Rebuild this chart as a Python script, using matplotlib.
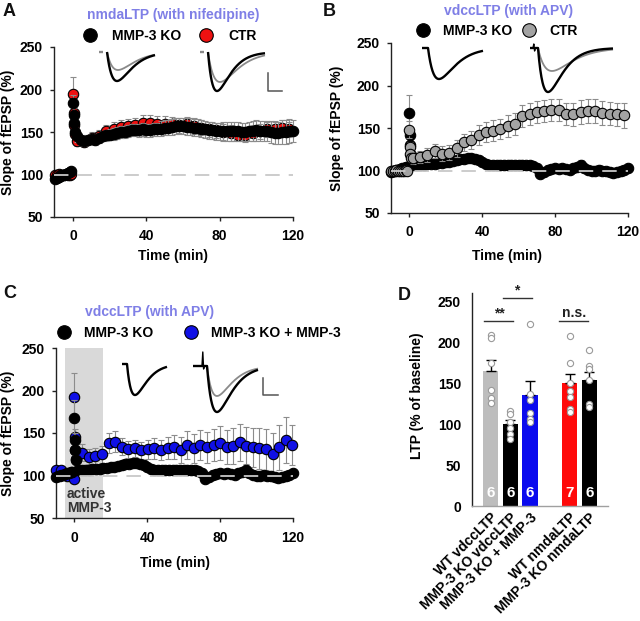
import numpy as np
import matplotlib
matplotlib.use('Agg')
import matplotlib.pyplot as plt

plt.rcParams['font.family'] = ['Liberation Sans', 'DejaVu Sans']
plt.rcParams['font.weight'] = 'bold'
plt.rcParams['axes.labelweight'] = 'bold'

# ---------------- DATA ----------------
# time grids (min)
t_base = np.arange(-10, 0)            # baseline, 1-min
t_ptp = np.array([0, 0.3, 0.6, 0.9])  # post-tetanic points
t_ko = np.arange(2, 121, 2)           # KO recordings every 2 min
t_ctr = np.arange(2, 119, 4)          # control every 4 min
t_blue = 4.4 + 3.6 * np.arange(33)    # KO + MMP-3
t_blue_base = np.array([-10, -7, -4, 0])

# Panel A: nmdaLTP (with nifedipine)
a_ko_base = [95, 96, 97, 98, 99, 100, 101, 102, 103, 104]
a_ctr_base = [100, 100, 101, 100, 99, 100, 101, 100, 100, 101]
a_ko_ptp = [184, 170, 161, 150]
a_ko_ptp_err = [10, 8, 7, 6]
a_ctr_ptp = [195, 172, 158, 148]
a_ctr_ptp_err = [20, 12, 9, 8]
a_ko = [145, 141, 140, 141, 142, 141, 143, 145, 146, 147,
        148, 149, 150, 150, 151, 152, 152, 152, 153, 152,
        152, 153, 153, 154, 155, 155, 156, 157, 157, 157,
        156, 156, 155, 155, 154, 153, 152, 152, 151, 151,
        151, 151, 151, 151, 151, 150, 150, 151, 151, 152,
        151, 151, 151, 150, 149, 149, 150, 150, 151, 151]
a_ko_err = [7, 6, 6, 6, 6, 6, 6, 6, 6, 6,
            7, 7, 7, 7, 7, 7, 7, 8, 8, 8,
            8, 8, 8, 9, 9, 9, 9, 9, 9, 9,
            10, 10, 10, 10, 10, 10, 10, 10, 10, 10,
            11, 11, 11, 11, 11, 11, 11, 11, 12, 12,
            12, 12, 12, 13, 13, 13, 14, 14, 14, 13]
a_ctr = [140, 138, 143, 145, 151, 154, 156, 157, 158, 161,
         161, 160, 160, 159, 158, 159, 157, 155, 153, 152,
         150, 149, 147, 146, 149, 151, 153, 154, 155, 153]
a_ctr_err = [6, 6, 7, 7, 7, 8, 8, 8, 9, 9,
             9, 9, 9, 9, 9, 9, 9, 9, 9, 9,
             9, 9, 8, 8, 9, 9, 9, 9, 9, 9]

# MMP-3 KO vdccLTP (panels B and C)
ko_v_base = [98, 99, 100, 101, 101, 102, 103, 103, 104, 104]
ko_v_ptp = [168, 142, 130, 118]
ko_v_ptp_err = [21, 8, 6, 5]
ko_v = [106, 106, 107, 107, 108, 108, 108, 109, 109, 110,
        110, 111, 112, 113, 114, 115, 115, 114, 112, 110,
        108, 107, 107, 106, 106, 107, 106, 107, 107, 106,
        107, 106, 106, 105, 103, 96, 98, 101, 102, 103,
        102, 103, 102, 101, 103, 104, 107, 103, 101, 100,
        100, 101, 100, 99, 98, 97, 98, 99, 101, 103]
ko_v_err = [4, 4, 4, 4, 4, 4, 4, 4, 4, 4,
            4, 4, 5, 5, 5, 5, 5, 5, 5, 5,
            5, 5, 5, 5, 5, 5, 5, 5, 5, 5,
            5, 5, 5, 5, 5, 5, 5, 5, 5, 5,
            5, 5, 5, 5, 5, 5, 5, 5, 5, 5,
            5, 5, 5, 5, 5, 5, 5, 5, 5, 5]

# Panel B control
b_ctr_base = [100, 99, 100, 101, 100, 100, 99, 100, 101, 100]
b_ctr_ptp = [148, 128, 120, 115]
b_ctr_ptp_err = [10, 6, 5, 5]
b_ctr = [115, 116, 118, 123, 120, 121, 126, 133, 136, 142,
         145, 147, 149, 152, 155, 164, 167, 169, 170, 171,
         171, 167, 166, 169, 170, 170, 168, 167, 166, 165]
b_ctr_err = [7, 7, 8, 8, 9, 9, 10, 10, 11, 12,
             12, 12, 12, 13, 13, 13, 13, 13, 13, 13,
             13, 13, 14, 14, 14, 14, 14, 14, 14, 15]

# Panel C: KO + MMP-3
c_blue_base = [106, 106, 100, 96]
c_blue_ptp = [192, 145, 130, 120]
c_blue_ptp_err = [29, 10, 8, 6]
c_blue = [127, 122, 123, 125, 138, 140, 134, 131, 132, 130,
          131, 132, 130, 132, 134, 130, 136, 132, 136, 133,
          136, 138, 133, 135, 139, 135, 133, 132, 131, 125,
          133, 142, 136]
c_blue_err = [10, 9, 9, 10, 12, 12, 10, 10, 10, 10,
              11, 12, 12, 13, 14, 15, 16, 17, 18, 18,
              19, 20, 20, 21, 22, 22, 23, 24, 24, 25,
              26, 27, 24]

# Panel D
d_labels = ['WT vdccLTP', 'MMP-3 KO vdccLTP', 'MMP-3 KO + MMP-3',
            'WT nmdaLTP', 'MMP-3 KO nmdaLTP']
d_pos = [0, 1, 2, 4, 5]
d_mean = [165, 100, 135, 150, 154]
d_sem = [13, 5, 18, 11, 10]
d_n = [6, 6, 6, 7, 6]
d_points = [[209, 205, 174, 141, 132, 126],
            [116, 112, 103, 95, 88, 82],
            [222, 137, 129, 114, 106, 102],
            [208, 175, 150, 140, 133, 118, 115],
            [191, 171, 167, 154, 125, 121]]
d_colors = ['#bdbdbd', '#000000', '#0a0aee', '#ff0a0a', '#000000']

TITLE_C = '#7f7fe6'
RED = '#ee1111'
GRAY = '#a3a3a3'
BLUE = '#1010e6'

# ---------------- FIGURE ----------------
W, H = 640, 621
fig = plt.figure(figsize=(6.4, 6.21), dpi=100)


def axes_px(left, right, top, bottom):
    return fig.add_axes([left / W, 1 - bottom / H, (right - left) / W, (bottom - top) / H])


def style_ts(ax, xlim):
    ax.set_xlim(*xlim)
    ax.set_ylim(50, 250)
    ax.set_xticks([0, 40, 80, 120])
    ax.set_yticks([50, 100, 150, 200, 250])
    for s in ['top', 'right']:
        ax.spines[s].set_visible(False)
    for s in ['left', 'bottom']:
        ax.spines[s].set_linewidth(1.0)
        ax.spines[s].set_color('#222222')
    ax.tick_params(axis='both', direction='out', length=3, width=1, labelsize=10, color='#222222')
    ax.tick_params(axis='x', pad=6)
    ax.tick_params(axis='y', pad=5)
    ax.set_xlabel('Time (min)', fontsize=10)
    ax.set_ylabel('Slope of fEPSP (%)', fontsize=10)
    ax.axhline(100, color='#c8c8c8', lw=1.3, ls=(0, (8, 5)), zorder=20)


def series(ax, t_parts, y_parts, e_parts, color, z):
    t = np.concatenate([np.asarray(p, float) for p in t_parts])
    y = np.concatenate([np.asarray(p, float) for p in y_parts])
    e = np.concatenate([np.asarray(p, float) for p in e_parts])
    c = ax.errorbar(t, y, yerr=e, fmt='o', ms=7.5, mfc=color, mec='black', mew=0.8,
                    ecolor='#8c8c8c', elinewidth=0.8, capsize=2, capthick=0.8,
                    zorder=z, clip_on=False)
    return c[0]


zeros10 = [3] * 10
LEGKW = dict(ncol=2, frameon=False, loc='center', bbox_transform=fig.transFigure,
             fontsize=10, markerscale=1.3, handlelength=1.0, borderpad=0, borderaxespad=0)

# Panel A
axA = axes_px(54, 293, 47, 217)
style_ts(axA, (-10.5, 120))
hA_ctr = series(axA, [t_base, t_ptp, t_ctr], [a_ctr_base, a_ctr_ptp, a_ctr],
                [zeros10, a_ctr_ptp_err, a_ctr_err], RED, 3)
hA_ko = series(axA, [t_base, t_ptp, t_ko], [a_ko_base, a_ko_ptp, a_ko],
               [zeros10, a_ko_ptp_err, a_ko_err], 'black', 4)
axA.xaxis.set_label_coords(0.50, -0.19)
axA.yaxis.set_label_coords(-0.165, 0.5)
axA.legend([hA_ko, hA_ctr], ['MMP-3 KO', 'CTR'], bbox_to_anchor=(170 / W, 1 - 36 / H),
           handletextpad=1.1, columnspacing=1.3, **LEGKW)

# Panel B
axB = axes_px(391, 628, 43, 213)
style_ts(axB, (-10, 120))
hB_ko = series(axB, [t_base, t_ptp, t_ko], [ko_v_base, ko_v_ptp, ko_v],
               [zeros10, ko_v_ptp_err, ko_v_err], 'black', 3)
hB_ctr = series(axB, [t_base, t_ptp, t_ctr], [b_ctr_base, b_ctr_ptp, b_ctr],
                [zeros10, b_ctr_ptp_err, b_ctr_err], GRAY, 4)
axB.xaxis.set_label_coords(0.49, -0.21)
axB.yaxis.set_label_coords(-0.198, 0.5)
axB.legend([hB_ko, hB_ctr], ['MMP-3 KO', 'CTR'], bbox_to_anchor=(497 / W, 1 - 31 / H),
           handletextpad=0.95, columnspacing=0.7, **LEGKW)

# Panel C
axC = axes_px(56, 293, 348, 518)
style_ts(axC, (-10, 120))
axC.axvspan(-5, 16, color='#d9d9d9', zorder=0, lw=0)
hC_blue = series(axC, [t_blue_base, t_ptp, t_blue], [c_blue_base, c_blue_ptp, c_blue],
                 [[3, 3, 3, 3], c_blue_ptp_err, c_blue_err], BLUE, 3)
hC_ko = series(axC, [t_base, t_ptp, t_ko], [ko_v_base, ko_v_ptp, ko_v],
               [zeros10, ko_v_ptp_err, ko_v_err], 'black', 4)
axC.text(-4, 53, 'active\nMMP-3', ha='left', va='bottom', fontsize=10, color='#333333',
         linespacing=1.05, zorder=25)
axC.xaxis.set_label_coords(0.50, -0.224)
axC.yaxis.set_label_coords(-0.173, 0.5)
axC.legend([hC_ko, hC_blue], ['MMP-3 KO', 'MMP-3 KO + MMP-3'], bbox_to_anchor=(199 / W, 1 - 333 / H),
           handletextpad=0.95, columnspacing=2.2, **LEGKW)

# Panel D
axD = axes_px(472, 608, 293, 506)
axD.set_xlim(-0.94, 5.95)
axD.set_ylim(0, 260)
axD.bar(d_pos, d_mean, width=0.77, color=d_colors, zorder=2)
axD.errorbar(d_pos, d_mean, yerr=[[0] * 5, d_sem], fmt='none', ecolor='black',
             elinewidth=1.0, capsize=3.5, capthick=1.0, zorder=3)
for p, pts in zip(d_pos, d_points):
    axD.scatter([p] * len(pts), pts, s=20, facecolor='white', edgecolor='#9a9a9a',
                linewidth=0.8, zorder=4)
for p, n in zip(d_pos, d_n):
    axD.text(p, 16, str(n), ha='center', va='center', color='white', fontsize=11, zorder=5)
axD.set_yticks([0, 50, 100, 150, 200, 250])
axD.set_xticks(d_pos)
axD.set_xticklabels(d_labels, rotation=45, ha='right', rotation_mode='anchor', fontsize=10)
for s in ['top', 'right']:
    axD.spines[s].set_visible(False)
axD.spines['left'].set_color('#222222')
axD.spines['left'].set_linewidth(1.0)
axD.spines['bottom'].set_color('#a0a0a0')
axD.spines['bottom'].set_linewidth(1.0)
axD.tick_params(axis='y', length=0, pad=8, labelsize=10)
axD.tick_params(axis='x', length=0, pad=3)
axD.set_ylabel('LTP (% of baseline)', fontsize=10)
axD.yaxis.set_label_coords(-0.353, 0.52)
# significance
sig = [(-0.33, 1.14, 225.5, '**', 0.46), (0.62, 2.09, 253.5, '*', 1.34), (3.47, 4.94, 225.5, 'n.s.', 4.23)]
for x0, x1, yy, lab, xc in sig:
    axD.plot([x0, x1], [yy, yy], color='#333333', lw=1.0, clip_on=False, zorder=5)
    axD.text(xc, yy + 1, lab, ha='center', va='bottom', fontsize=10, color='#222222', clip_on=False)

# ---------------- overlay: titles, letters, traces ----------------
ov = fig.add_axes([0, 0, 1, 1], zorder=10)
ov.set_xlim(0, W)
ov.set_ylim(H, 0)
ov.axis('off')
ov.patch.set_alpha(0)

for txt, x, y in [('nmdaLTP (with nifedipine)', 173, 15), ('vdccLTP (with APV)', 509, 11),
                  ('vdccLTP (with APV)', 150, 312)]:
    ov.text(x, y, txt, ha='center', va='center', fontsize=10, color=TITLE_C)
for txt, x, y in [('A', 3, 11), ('B', 323, 11), ('C', 3, 293), ('D', 398, 295)]:
    ov.text(x, y, txt, ha='left', va='center', fontsize=13, color='#111111')


def trace(x0, x1, xm, xe, y0, depth, color, lw, dash=None, artifact=None):
    xs = np.linspace(x1, xe, 200)
    s = (xs - x1) / (xm - x1)
    ys = y0 + depth * s * np.exp(1 - s)
    ov.plot(np.concatenate([[x0], xs]), np.concatenate([[y0], ys]), color=color, lw=lw,
            solid_capstyle='butt', solid_joinstyle='round')
    if dash is not None:
        ov.plot(dash, [y0, y0], color=color, lw=lw + 0.4, solid_capstyle='butt')
    if artifact is not None:
        xa, up, dn = artifact
        ov.plot([xa, xa + 0.8, xa + 1.6, xa + 2.4], [y0, y0 - up, y0 + dn, y0], color=color, lw=1.0)


# A traces
trace(107, 107, 118, 155, 52, 18, '#8a8a8a', 1.3, dash=(99, 103))
trace(107, 107, 117, 155, 52, 29, 'black', 1.7)
trace(208, 208, 220, 265, 52, 30, '#8a8a8a', 1.3, dash=(200, 204))
trace(208, 208, 217, 265, 52, 39, 'black', 1.7)
ov.plot([268, 268, 282], [73, 91, 91], color='#555555', lw=1.1)
# B traces
trace(422, 428, 439, 483, 48, 31, 'black', 1.7)
trace(530, 538, 552, 613, 48, 23, '#8a8a8a', 1.3)
trace(530, 538, 548, 613, 48, 44, 'black', 1.7, artifact=(533, 4, 3))
# C traces
trace(122, 127, 135, 167, 364, 31, 'black', 1.7)
trace(193, 207, 217, 258, 366, 30, '#8a8a8a', 1.3)
trace(193, 207, 217, 258, 366, 46, 'black', 1.7, artifact=(202, 14, 3))
ov.plot([263, 263, 278], [378, 395, 395], color='#555555', lw=1.1)

fig.savefig('out.png', dpi=100)
